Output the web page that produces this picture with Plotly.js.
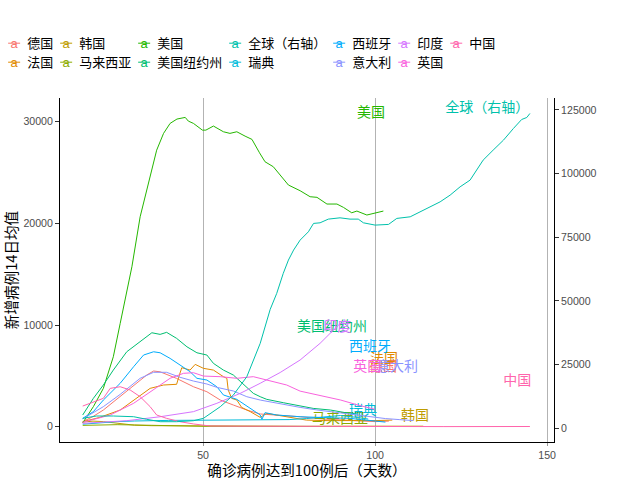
<!DOCTYPE html>
<html>
<head>
<meta charset="utf-8">
<script src="https://cdn.plot.ly/plotly-3.0.1.min.js"></script>
<style>html,body{margin:0;padding:0;background:#fff;}</style>
</head>
<body>
<div id="chart" style="width:640px;height:480px;"></div>
<script>
// ---------- data ----------
const names = ['德国','法国','韩国','马来西亚','美国','美国纽约州','全球（右轴）','瑞典','西班牙','意大利','印度','英国','中国'];
const colors = ['#F8766D','#E18A00','#BE9C00','#8CAB00','#24B700','#00BE70','#00C1AB','#00BBDA','#00ACFC','#8B93FF','#D575FE','#F962DD','#FF65AC'];
const labels = ['德国','法国','韩国','马来西亚','美国','美国纽约州','全球（右轴）','瑞典','西班牙','意大利','印度','英国','中国'];
const groups = ['g1','g1','g2','g2','g3','g3','g4','g4','g5','g5','g6','g6','g7'];

const deX = [15,18,21,25.9,30.7,33.6,35.6,37.5,42.3,47.2,51.1,55,58.8,62.7,66.6,71.4,78.2,85,90,95,100,104];
const deY = [490,1000,1640,2950,4270,5080,5475,5400,4750,3930,3440,2620,2130,1640,1250,1150,980,750,650,550,500,550];

const frX = [15,20,25.9,30.7,34.6,38.5,42.3,43.1,43.8,46.2,47.7,50.1,53,55.9,56.9,57.3,58.3,59.8,61.2,63.7,66.6,68.5,74.3,80,85,90,95,100,105];
const frY = [490,920,1640,2790,3770,4100,4170,5080,5800,5570,6130,5740,5570,4920,4760,3610,2790,2620,1900,1480,920,1310,980,650,600,600,550,600,650];

const krX = [15,18,21,24,27,30,35,40,50,60,70,80,90,100,110,114];
const krY = [450,550,500,380,250,150,100,90,60,30,30,40,50,40,45,50];

const myX = [15,20,25,30,35,40,45,50,60,70,80,90];
const myY = [130,180,200,170,130,80,50,40,30,20,15,20];

const usX = [15,18.1,21,23.9,25.9,27.3,29.3,31.7,34.1,36.5,38.5,40.4,42.4,44.8,45.7,47.2,49.8,50.8,53,55.9,57.8,59.8,62.2,64.2,66.4,68,70.4,72.9,74.8,78.2,81.1,83.1,86,88.9,90.8,93.2,94.7,97.6,100,102.4];
const usY = [365,1970,3770,6880,10160,12430,15730,20650,23930,27200,28850,29830,30260,30420,30060,29830,29170,29170,29570,29010,28850,29010,28580,28260,26940,26060,25570,24580,23770,23210,22620,22560,21900,21900,21570,21040,21210,20820,20980,21210];

const nyX = [15,18.1,21,23.9,27.8,31.7,35.1,37.5,39.4,42.3,45.3,48.2,51.1,53,55.9,58.8,62,64.6,66.6,68.5,73.3,78.2,82,87,91,95];
const nyY = [1150,2790,4100,5570,7370,8360,9240,9080,9280,8690,7860,7270,7050,6230,5570,5080,4100,3280,2950,2690,2360,2040,1800,1640,1400,1250];

const glX = [15,19,23.9,29.8,33.6,37.5,42.3,47.2,50.1,55,58.8,62.7,66.6,69.5,71.4,73.3,74.8,76.3,78.2,80.6,82.1,84,86.4,89.8,92.7,95.1,96.6,100,103.9,106.3,110.2,113.1,116,118.9,121.8,124.7,127.6,129.5,131.4,134.3,137.3,140.2,142.6,144.1,145];
const glY = [3920,4830,4830,4550,3530,2590,2590,2980,3920,8480,13070,20250,33360,46700,52980,60830,66050,69980,73900,77160,80450,80690,82140,82650,82140,82140,80690,79790,80060,82420,83050,85010,86970,88930,91560,94820,97450,101370,105300,109220,113140,117730,121260,122050,123630];

const seX = [15,20,25,30,35,40,50,60,70,75,80,85,90,95,98];
const seY = [250,400,500,560,600,620,640,650,660,700,800,950,1100,900,750];

const esX = [15,18.1,21,25.9,29.8,32.7,35.6,37.5,40.4,43.3,46.2,48.2,51.1,54,55.9,59.8,62.7,66.6,67.1,68,71.4,78.2,85,92.7,96,100,103];
const esY = [820,1480,2620,4270,5900,7050,7370,7270,6720,6060,5410,4760,4590,3930,3120,2690,2030,1150,730,1380,1150,980,900,820,700,550,450];

const itX = [15,21,25.9,31.7,35.6,39.4,43.3,47.2,51.1,54,58.8,62.7,66.6,71.4,78.2,83,88,93,98,103,107,111];
const itY = [760,1970,3180,4760,5350,5350,4860,4490,4200,3870,3510,2950,2620,2300,1900,1650,1450,1200,980,800,700,600];

const inX = [15,20,27.8,37.5,47.2,54,60.8,66.6,72.4,78.2,84,87.9,90];
const inY = [330,450,590,980,1480,2300,3280,4270,5330,6560,8200,9510,10200];

const ukX = [15,23,29.8,35.6,40.4,44.3,47.2,50.1,55,59.8,64.6,68.5,74.3,78.2,83,90,95,100];
const ukY = [430,1150,2300,3610,4760,5250,5310,4980,4920,4760,4920,4590,4100,3500,3120,2620,2130,1700];

const cnX = [15,18.1,21,23,25.9,28.8,31.7,34.6,36.5,39.4,43.3,47.2,52,60,80,100,120,145];
const cnY = [2030,2460,2790,3770,3930,3610,2950,1970,1150,820,490,270,70,50,20,15,10,20];

// label anchors (global label is in right-axis units)
const labelX = [102.3,102.6,111.6,89.8,98.8,87.5,132.6,96.5,98.5,106.4,89,97.7,141.3];
const labelY = [5870,6610,1000,660,30840,9750,125720,1540,7790,5870,9800,5870,4490];

const seriesX = [deX,frX,krX,myX,usX,nyX,glX,seX,esX,itX,inX,ukX,cnX];
const seriesY = [deY,frY,krY,myY,usY,nyY,glY,seY,esY,itY,inY,ukY,cnY];

// ---------- traces ----------
const CJK = 'Noto Sans CJK SC, Noto Sans, sans-serif';
const traces = names.map((n, i) => {
  const xs = seriesX[i].concat([null, labelX[i]]);
  const ys = seriesY[i].concat([null, labelY[i]]);
  const tx = seriesX[i].map(() => '').concat(['', labels[i]]);
  return {
    type: 'scatter', mode: 'lines+text', name: n, legendgroup: groups[i],
    x: xs, y: ys, text: tx, textposition: 'middle center',
    textfont: {family: CJK, size: 14, color: colors[i]},
    line: {color: colors[i], width: 1},
    yaxis: i === 6 ? 'y2' : 'y', cliponaxis: false, hoverinfo: 'skip'
  };
});

const tickFont = {family: 'Liberation Sans, Arial, sans-serif', size: 10.6, color: '#4d4d4d'};
const layout = {
  width: 640, height: 480,
  margin: {l: 60, r: 86, t: 98, b: 38, pad: 0, autoexpand: false},
  paper_bgcolor: '#fff', plot_bgcolor: '#fff',
  font: {family: CJK, color: '#000'},
  showlegend: true,
  legend: {orientation: 'h', x: -0.105, xanchor: 'left', y: 1.2, yanchor: 'top',
           font: {family: CJK, size: 13, color: '#000'}, tracegroupgap: 0, bgcolor: 'rgba(0,0,0,0)'},
  xaxis: {range: [8.4, 152], tickvals: [50, 100, 150], ticktext: ['50','100','150'],
          showgrid: true, gridcolor: '#b3b3b3', gridwidth: 1, zeroline: false,
          showline: true, linecolor: '#000', linewidth: 1, ticks: 'outside', ticklen: 3, tickcolor: '#999',
          tickfont: tickFont, title: {text: '确诊病例达到100例后（天数）', font: {family: CJK, size: 14.6, color: '#000'}, standoff: 2}},
  yaxis: {range: [-1505, 32330], tickvals: [0, 10000, 20000, 30000], tickformat: 'd',
          showgrid: false, zeroline: false, showline: true, linecolor: '#000', linewidth: 1,
          ticks: 'outside', ticklen: 4, tickcolor: '#333', tickfont: tickFont,
          title: {text: '新增病例14日均值', font: {family: CJK, size: 14.6, color: '#000'}, standoff: 8}},
  yaxis2: {overlaying: 'y', side: 'right', range: [-5380, 129700],
           tickvals: [0, 25000, 50000, 75000, 100000, 125000], tickformat: 'd',
           showgrid: false, zeroline: false, showline: true, linecolor: '#000', linewidth: 1,
           ticks: 'outside', ticklen: 4, tickcolor: '#333', tickfont: tickFont}
};

function tweakLegend() {
  try {
    const svgNS = 'http://www.w3.org/2000/svg';
    const gd = document.getElementById('chart');
    gd.querySelectorAll('g.legend, g.legend [clip-path]').forEach(el => el.removeAttribute('clip-path'));
    const grps = gd.querySelectorAll('g.legend g.groups');
    let gx = 0;
    const symW = 12, txtX = 19, gap = 7, rowH = 19, row0 = 14;
    grps.forEach(g => {
      let maxW = 0, row = 0;
      g.querySelectorAll('g.traces').forEach(t => {
        t.setAttribute('transform', 'translate(0,' + (row0 + row * rowH) + ')');
        const txt = t.querySelector('text.legendtext');
        if (txt) {
          txt.setAttribute('x', txtX);
          txt.querySelectorAll('tspan').forEach(s => { if (s.hasAttribute('x')) s.setAttribute('x', txtX); });
          maxW = Math.max(maxW, txt.getComputedTextLength());
        }
        let col = '#000';
        let holder = null;
        t.querySelectorAll('path.js-line').forEach(p => {
          p.setAttribute('d', 'M0,0h' + symW);
          col = p.style.stroke || col;
          holder = p.parentNode;
        });
        t.querySelectorAll('g.pointtext').forEach(p => p.remove());
        if (holder) {
          let a = t.querySelector('text.mya');
          if (!a) { a = document.createElementNS(svgNS, 'text'); a.setAttribute('class', 'mya'); holder.appendChild(a); }
          a.textContent = 'a';
          a.setAttribute('x', symW / 2);
          a.setAttribute('y', 4.5);
          a.setAttribute('text-anchor', 'middle');
          a.style.fill = col;
          a.style.fontSize = '13px';
          a.style.fontFamily = 'Liberation Sans, Arial, sans-serif';
        }
        row++;
      });
      g.setAttribute('transform', 'translate(' + gx + ',0)');
      gx += txtX + maxW + gap;
    });
  } catch (e) { console.log(e); }
}

Plotly.newPlot('chart', traces, layout, {staticPlot: true, displayModeBar: false}).then(gd => {
  tweakLegend();
  gd.on('plotly_afterplot', tweakLegend);
});
</script>
</body>
</html>
